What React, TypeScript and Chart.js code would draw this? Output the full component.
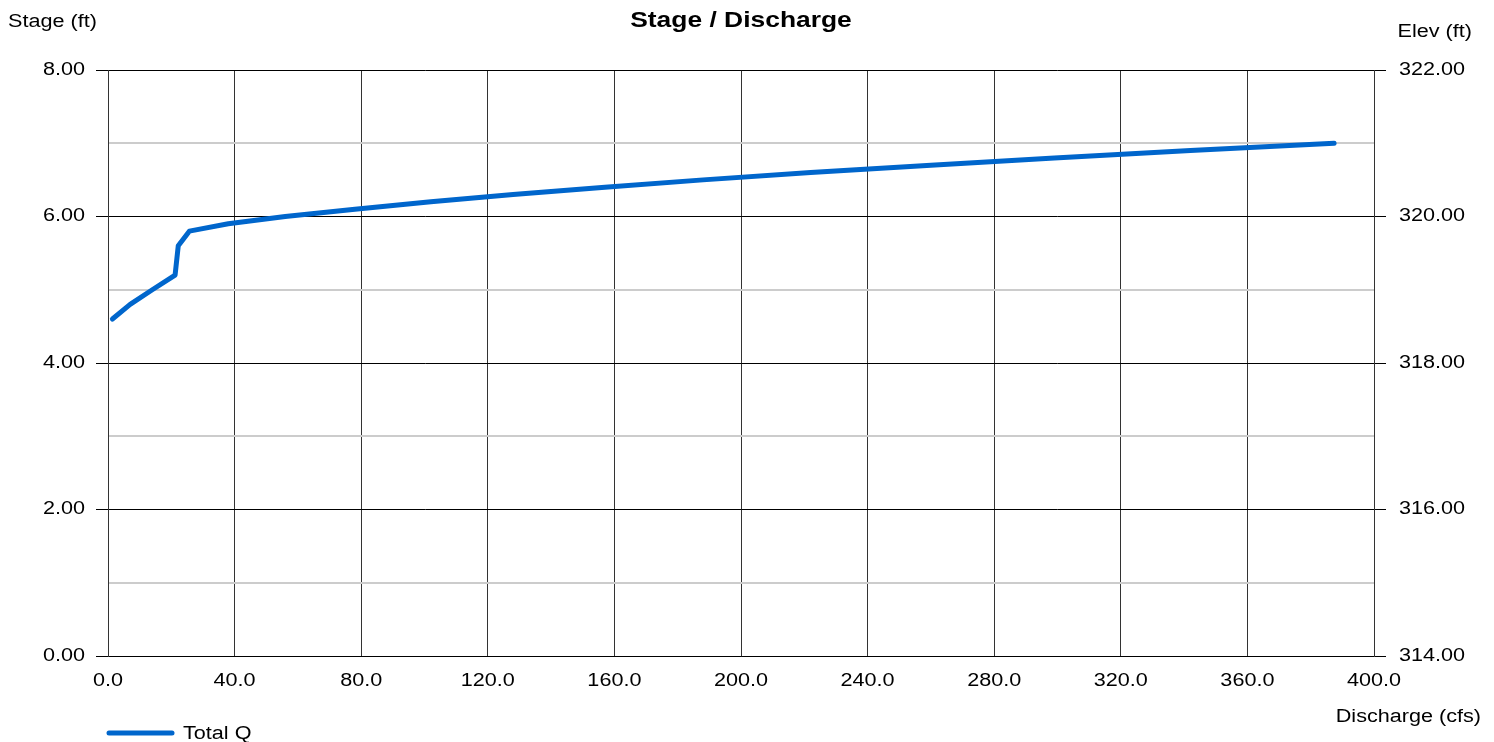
import React, { useEffect, useRef } from "react";
import { Chart, registerables } from "chart.js";

Chart.register(...registerables);

const discharge = [1.4, 7.0, 14.0, 21.2, 22.2, 25.7, 38.0, 56.0, 78.0, 102.0, 128.0, 157.0, 188.0, 222.0, 260.0, 299.0, 342.0, 387.4];
const stage = [4.6, 4.8, 5.0, 5.2, 5.6, 5.8, 5.9, 6.0, 6.1, 6.2, 6.3, 6.4, 6.5, 6.6, 6.7, 6.8, 6.9, 7.0];

const chartTitle = "Stage / Discharge";
const leftAxisTitle = "Stage (ft)";
const rightAxisTitle = "Elev (ft)";
const xAxisTitle = "Discharge (cfs)";
const seriesName = "Total Q";
const FONT = "'Liberation Sans', Arial, sans-serif";
const LINE_COLOR = "#0066cc";
const STRETCH = 1.2;

function drawText(ctx: any, text: string, x: number, y: number, align: string, font: string) {
  ctx.save();
  ctx.font = font;
  ctx.textAlign = align;
  ctx.textBaseline = "middle";
  ctx.fillStyle = "#000";
  ctx.translate(x, y);
  ctx.scale(STRETCH, 1);
  ctx.fillText(text, 0, 0);
  ctx.restore();
}

const textPlugin = {
  id: "texts",
  afterDraw(chart: any) {
    const ctx = chart.ctx;
    const area = chart.chartArea;
    const reg = `18px ${FONT}`;
    drawText(ctx, chartTitle, (area.left + area.right) / 2, 21, "center", `bold 22px ${FONT}`);
    drawText(ctx, leftAxisTitle, 8, 22, "left", reg);
    drawText(ctx, rightAxisTitle, 1472, 32, "right", reg);
    drawText(ctx, xAxisTitle, 1481, 717, "right", reg);

    const xs = chart.scales.x;
    xs.ticks.forEach((t: any) => {
      drawText(ctx, Number(t.value).toFixed(1), xs.getPixelForValue(t.value), 681, "center", reg);
    });
    const ys = chart.scales.y;
    ys.ticks.forEach((t: any) => {
      if (Number(t.value) % 2 === 0) {
        drawText(ctx, Number(t.value).toFixed(2), 85, ys.getPixelForValue(t.value), "right", reg);
      }
    });
    const y2 = chart.scales.y2;
    y2.ticks.forEach((t: any) => {
      drawText(ctx, Number(t.value).toFixed(2), 1399, y2.getPixelForValue(t.value), "left", reg);
    });

    // legend
    ctx.save();
    ctx.strokeStyle = LINE_COLOR;
    ctx.lineWidth = 5;
    ctx.lineCap = "round";
    ctx.beginPath();
    ctx.moveTo(109, 733);
    ctx.lineTo(172, 733);
    ctx.stroke();
    ctx.restore();
    drawText(ctx, seriesName, 183, 734, "left", reg);
  },
};

export default function App() {
  const ref = useRef<HTMLCanvasElement>(null);
  useEffect(() => {
    if (!ref.current) return;
    const chart = new Chart(ref.current, {
      type: "line",
      data: {
        datasets: [
          {
            label: seriesName,
            data: discharge.map((q, i) => ({ x: q, y: stage[i] })),
            borderColor: LINE_COLOR,
            backgroundColor: LINE_COLOR,
            borderWidth: 5,
            pointRadius: 0,
            tension: 0,
            borderCapStyle: "round",
            borderJoinStyle: "round",
            yAxisID: "y",
          },
        ],
      },
      options: {
        animation: false,
        responsive: true,
        maintainAspectRatio: false,
        layout: { padding: { top: 70, left: 0, right: 0, bottom: 0 } },
        plugins: {
          legend: { display: false },
          title: { display: false },
          tooltip: { enabled: false },
        },
        scales: {
          x: {
            type: "linear",
            min: 0,
            max: 400,
            afterFit: (s: any) => {
              s.height = 86;
            },
            ticks: { stepSize: 40, autoSkip: false, display: false },
            grid: { color: "#333", lineWidth: 1, drawTicks: false },
            border: { color: "#000", width: 1 },
          },
          y: {
            type: "linear",
            position: "left",
            min: 0,
            max: 8,
            afterFit: (s: any) => {
              s.width = 108;
            },
            ticks: { stepSize: 1, autoSkip: false, display: false },
            grid: {
              color: (c: any) => (c.tick && c.tick.value % 2 === 0 ? "#000" : "#cccccc"),
              lineWidth: (c: any) => (c.tick && c.tick.value % 2 === 0 ? 1 : 2),
              tickColor: (c: any) => (c.tick && c.tick.value % 2 === 0 ? "#000" : "rgba(0,0,0,0)"),
              tickLength: 12,
            },
            border: { color: "#333", width: 1 },
          },
          y2: {
            type: "linear",
            position: "right",
            min: 314,
            max: 322,
            afterFit: (s: any) => {
              s.width = 120;
            },
            ticks: { stepSize: 2, autoSkip: false, display: false },
            grid: { drawOnChartArea: false, tickLength: 12, tickColor: "#000" },
            border: { color: "#333", width: 1 },
          },
        },
      },
      plugins: [textPlugin],
    } as any);
    return () => chart.destroy();
  }, []);
  return (
    <div style={{ position: "fixed", left: 0, top: 0, width: 1494, height: 742, background: "#fff" }}>
      <canvas ref={ref} />
    </div>
  );
}
